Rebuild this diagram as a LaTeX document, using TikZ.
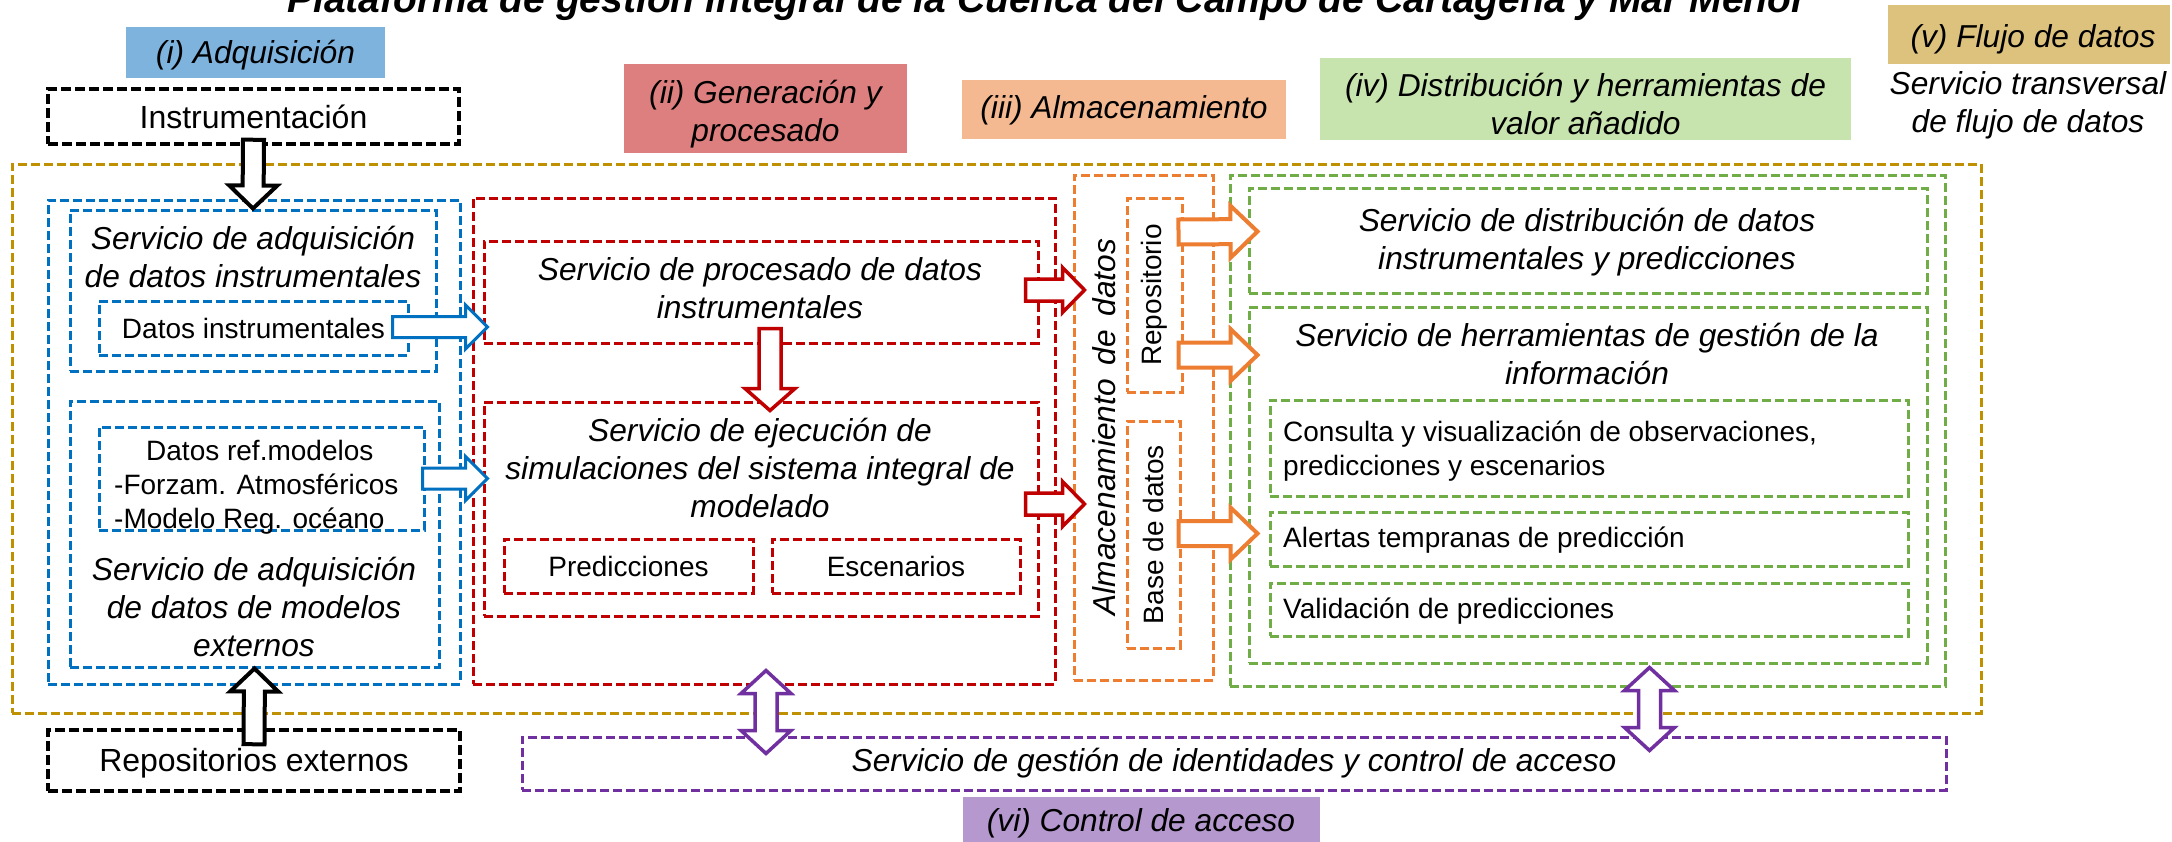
\documentclass[tikz,border=0pt]{standalone}
\usepackage{fontspec}
\setmainfont{Liberation Sans}
\usetikzlibrary{calc}
\definecolor{cblue}{HTML}{0070C0}
\definecolor{cred}{HTML}{C00000}
\definecolor{corange}{HTML}{ED7D31}
\definecolor{cgreen}{HTML}{70AD47}
\definecolor{cgold}{HTML}{BF9000}
\definecolor{cpurple}{HTML}{7030A0}
\definecolor{lI}{HTML}{7EB3DE}
\definecolor{lII}{HTML}{DE7F7F}
\definecolor{lIII}{HTML}{F4B990}
\definecolor{lIV}{HTML}{C7E3AE}
\definecolor{lV}{HTML}{DCC27D}
\definecolor{lVI}{HTML}{B598CE}
\newcommand{\fI}{\fontsize{31.7}{38}\selectfont\itshape}
\newcommand{\fR}{\fontsize{28}{34}\selectfont}
\newcommand{\fB}{\fontsize{32}{38}\selectfont}
\newcommand{\fT}{\fontsize{39}{46}\selectfont\bfseries\itshape}
\newcommand{\mkbox}[6]{\node[#2, minimum width={(#5)-(#3)}, minimum height={(#6)-(#4)}] (#1) at ({((#3)+(#5))/2},{((#4)+(#6))/2}) {};}
\newcommand{\blockarrow}[6]{%
 \path (#2) coordinate (bA) (#3) coordinate (bB);
 \path ($(bB)!#6!(bA)$) coordinate (bH);
 \draw[#1] ($(bA)!#4!90:(bB)$) -- ($(bH)!#4!-90:(bA)$) -- ($(bH)!#5!-90:(bA)$) -- (bB) -- ($(bH)!#5!90:(bA)$) -- ($(bH)!#4!90:(bA)$) -- ($(bA)!#4!-90:(bB)$) -- cycle;}
\newcommand{\dblarrow}[6]{%
 \path (#2) coordinate (bA) (#3) coordinate (bB);
 \path ($(bB)!#6!(bA)$) coordinate (bH) ($(bA)!#6!(bB)$) coordinate (bG);
 \draw[#1] (bA) -- ($(bG)!#5!90:(bB)$) -- ($(bG)!#4!90:(bB)$) -- ($(bH)!#4!-90:(bA)$) -- ($(bH)!#5!-90:(bA)$) -- (bB) -- ($(bH)!#5!90:(bA)$) -- ($(bH)!#4!90:(bA)$) -- ($(bG)!#4!-90:(bB)$) -- ($(bG)!#5!-90:(bB)$) -- cycle;}
\tikzset{
 dbox/.style={draw, dash pattern=on 9pt off 4pt, line width=3pt, inner sep=0pt},
 kbox/.style={dbox, draw=black, line width=3.5pt, dash pattern=on 10pt off 4pt},
 bbox/.style={dbox, draw=cblue},
 rbox/.style={dbox, draw=cred},
 obox/.style={dbox, draw=corange},
 gbox/.style={dbox, draw=cgreen},
 ybox/.style={dbox, draw=cgold},
 pbox/.style={dbox, draw=cpurple},
 lab/.style={draw=none, inner sep=0pt},
 tI/.style={font=\fI, align=center, inner sep=0pt},
 tR/.style={font=\fR, align=left, inner sep=0pt},
 tB/.style={font=\fB, inner sep=0pt},
 karrow/.style={draw=black, fill=white, line width=4pt, line join=miter},
 barrow/.style={draw=cblue, fill=white, line width=3pt},
 rarrow/.style={draw=cred, fill=white, line width=3.5pt},
 oarrow/.style={draw=corange, fill=white, line width=4pt},
 parrow/.style={draw=cpurple, fill=white, line width=3.5pt},
}
\begin{document}
\begin{tikzpicture}[x=1pt,y=-1pt]
\useasboundingbox (0,0) rectangle (2172,841);
\clip (0,0) rectangle (2172,841);
\fill[white] (0,0) rectangle (2172,841);
% title
\node[anchor=base, font=\fT, inner sep=0pt] (title) at (1047,12) {Plataforma de gestión integral de la Cuenca del Campo de Cartagena y Mar Menor};
% category labels
\mkbox{labI}{lab, fill=lI}{126}{27}{385}{78}
\mkbox{labII}{lab, fill=lII}{624}{64}{907}{153}
\mkbox{labIII}{lab, fill=lIII}{962}{80}{1286}{139}
\mkbox{labIV}{lab, fill=lIV}{1320}{58}{1851}{140}
\mkbox{labV}{lab, fill=lV}{1888}{5}{2170}{64}
\mkbox{labVI}{lab, fill=lVI}{963}{797}{1320}{860}
\node[tI] (tLI) at ($(labI)+(0,3)$) {(i) Adquisición};
\node[tI] (tLII) at ($(labII)+(0,6)$) {(ii) Generación y\\procesado};
\node[tI] (tLIII) at ($(labIII)+(0,1)$) {(iii) Almacenamiento};
\node[tI] (tLIV) at ($(labIV)+(0,5)$) {(iv) Distribución y herramientas de\\valor añadido};
\node[tI] (tLV) at ($(labV)+(4,5)$) {(v) Flujo de datos};
\node[tI] (tV) at (2028,105) {Servicio transversal\\de flujo de datos};
\node[tI] (tLVI) at (1141,823) {(vi) Control de acceso};
% boxes
\mkbox{gold}{ybox}{12}{164}{1981}{713}
\mkbox{instr}{kbox}{48}{89}{459}{144}
\mkbox{repo}{kbox}{48}{730}{460}{791}
\mkbox{blueOut}{bbox}{48}{200}{460}{684}
\mkbox{blueIn1}{bbox}{70}{210}{436}{371}
\mkbox{datIns}{bbox}{99}{301}{408}{355}
\mkbox{blueIn2}{bbox}{70}{401}{439}{667}
\mkbox{datRef}{bbox}{99}{427}{424}{530}
\mkbox{redOut}{rbox}{473}{198}{1055}{684}
\mkbox{redIn1}{rbox}{484}{241}{1038}{343}
\mkbox{redIn2}{rbox}{484}{402}{1038}{616}
\mkbox{pred}{rbox}{504}{539}{753}{593}
\mkbox{esc}{rbox}{772}{539}{1020}{593}
\mkbox{orOut}{obox}{1074}{175}{1213}{680}
\mkbox{repBox}{obox}{1127}{198}{1182}{392}
\mkbox{bdBox}{obox}{1127}{421}{1180}{648}
\mkbox{grOut}{gbox}{1230}{175}{1945}{686}
\mkbox{grDist}{gbox}{1249}{188}{1927}{293}
\mkbox{grHerr}{gbox}{1249}{307}{1927}{663}
\mkbox{consulta}{gbox}{1270}{400}{1908}{496}
\mkbox{alertas}{gbox}{1270}{512}{1908}{566}
\mkbox{valid}{gbox}{1270}{583}{1908}{636}
\mkbox{purple}{pbox}{522}{737}{1946}{790}
% block arrows
\blockarrow{karrow}{$(instr.south)+(0,-6)$}{blueIn1.north}{10.5pt}{24pt}{23pt}
\blockarrow{karrow}{$(repo.north)+(0,16)$}{blueIn2.south}{10.5pt}{24pt}{23pt}
\blockarrow{barrow}{$(datIns.east)+(-17,-1)$}{$(redIn1.west|-datIns.east)+(5,-1)$}{10.5pt}{22pt}{22pt}
\blockarrow{barrow}{$(datRef.east)+(-3,0)$}{$(redIn2.west|-datRef.east)+(5,0)$}{10.5pt}{22pt}{22pt}
\blockarrow{rarrow}{$(redIn1.east)+(-14,-2)$}{$(orOut.west|-redIn1.east)+(12,-2)$}{11pt}{22.5pt}{22pt}
\blockarrow{rarrow}{$(redIn2.east)+(-14,-5)$}{$(orOut.west|-redIn2.east)+(12,-5)$}{11pt}{22.5pt}{22pt}
\blockarrow{rarrow}{$(redIn1.south)+(9,-16)$}{$(redIn2.north)+(9,10)$}{11pt}{25pt}{22pt}
\blockarrow{oarrow}{$(repBox.east)+(-5,-63)$}{$(grDist.west)+(10,-9)$}{12.5pt}{26pt}{27pt}
\blockarrow{oarrow}{$(repBox.east)+(-5,60)$}{$(grHerr.west|-repBox.east)+(10,60)$}{12.5pt}{26pt}{27pt}
\blockarrow{oarrow}{$(bdBox.east)+(-3,-1)$}{$(grHerr.west|-bdBox.east)+(10,-1)$}{12.5pt}{26pt}{27pt}
\dblarrow{parrow}{$(redOut.south)+(2,-15)$}{$(purple.north-|redOut.south)+(2,18)$}{11pt}{25pt}{23pt}
\dblarrow{parrow}{$(grOut.south)+(62,-20)$}{$(purple.north-|grOut.south)+(62,15)$}{11pt}{25pt}{23pt}
% texts
\node[tB] (tInstr) at (instr) {Instrumentación};
\node[tB] (tRepo) at ($(repo)+(0,3)$) {Repositorios externos};
\node[tI] (tAdq1) at (253,257) {Servicio de adquisición\\de datos instrumentales};
\node[tR] (tDatIns) at (datIns) {Datos instrumentales};
\node[tR, anchor=west] (tDatRef) at (114,487) {\hspace*{32pt}Datos ref.modelos\\-Forzam. Atmosféricos\\-Modelo Reg. océano};
\node[tI] (tAdq2) at (254,607) {Servicio de adquisición\\de datos de modelos\\externos};
\node[tI] (tProc) at (760,288) {Servicio de procesado de datos\\instrumentales};
\node[tI] (tEjec) at (760,468) {Servicio de ejecución de\\simulaciones del sistema integral de\\modelado};
\node[tR] (tPred) at (pred) {Predicciones};
\node[tR] (tEsc) at (esc) {Escenarios};
\node[tI, rotate=90] (tAlm) at (1104,427) {Almacenamiento\hspace{5pt} de\hspace{5pt} datos};
\node[tR, rotate=90] (tRep) at (repBox) {Repositorio};
\node[tR, rotate=90] (tBD) at (bdBox) {Base de datos};
\node[tI] (tDist) at (1587,242) {Servicio de distribución de datos\\instrumentales y predicciones};
\node[tI] (tHerr) at (1587,354) {Servicio de herramientas de gestión de la\\información};
\node[tR, anchor=west] (tCons) at (1283,451) {Consulta y visualización de observaciones,\\predicciones y escenarios};
\node[tR, anchor=west] (tAlert) at (1283,540) {Alertas tempranas de predicción};
\node[tR, anchor=west] (tValid) at (1283,611) {Validación de predicciones};
\node[tI] (tPurp) at (purple) {Servicio de gestión de identidades y control de acceso};
\end{tikzpicture}
\end{document}
